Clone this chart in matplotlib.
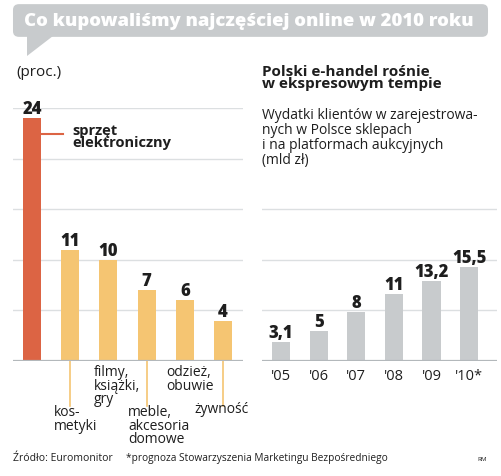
import matplotlib
matplotlib.use("Agg")
from matplotlib import pyplot as plt
from matplotlib.patches import FancyBboxPatch, Polygon

# data: what we bought online most often in 2010 (percent)
categories = ["sprzęt\nelektroniczny", "kos-\nmetyki", "filmy,\nksiążki,\ngry",
              "meble,\nakcesoria\ndomowe", "odzież,\nobuwie", "żywność"]
shares = [24, 11, 10, 7, 6, 4]

# data: Polish e-commerce spending (bn zl)
years = ["'05", "'06", "'07", "'08", "'09", "'10*"]
spending = [3.1, 5, 8, 11, 13.2, 15.5]
spending_labels = ["3,1", "5", "8", "11", "13,2", "15,5"]

W, H = 502, 477
RED = "#dc6444"
YELLOW = "#f5c572"
GREY_BAR = "#c8cbcd"
GRID = "#dcdfe1"
BASE = "#b3b8bb"
TXT = "#1e1e1e"

plt.rcParams["font.family"] = ["Open Sans", "DejaVu Sans"]

fig = plt.figure(figsize=(W / 100, H / 100), dpi=100)


def fx(x):
    return x / W


def fy(y):
    return 1 - y / H


def px_axes(x0, y0, x1, y1):
    return fig.add_axes([fx(x0), fy(y1), (x1 - x0) / W, (y1 - y0) / H])


# title box with speech-bubble tail
box = FancyBboxPatch((fx(16), fy(35)), fx(469), (33 - 6) / H,
                     boxstyle="round,pad=0.006,rounding_size=0.012",
                     transform=fig.transFigure, facecolor=GREY_BAR,
                     edgecolor="none")
fig.patches.append(box)
tail = Polygon([(fx(27), fy(37)), (fx(53), fy(37)), (fx(27), fy(57))],
               closed=True, transform=fig.transFigure, facecolor=GREY_BAR,
               edgecolor="none")
fig.patches.append(tail)
fig.text(fx(249), fy(21), "Co kupowaliśmy najczęściej online w 2010 roku",
         color="white", fontsize=13.3, fontweight="heavy", ha="center",
         va="center")

fig.text(fx(16), fy(73), "(proc.)", fontsize=11, color=TXT, va="center")

# ---- left chart ----
ax1 = px_axes(13, 109, 243, 362)
x1 = list(range(len(shares)))
colors = [RED] + [YELLOW] * (len(shares) - 1)
ax1.bar(x1, shares, width=0.47, color=colors, zorder=3)
ax1.set_xlim(-0.497, 5.52)
ax1.set_ylim(0, 25)
for g in [5, 10, 15, 20, 25]:
    ax1.axhline(g, color=GRID, lw=1, zorder=1)
ax1.axhline(0, color=BASE, lw=1.6, zorder=4)
for i, v in enumerate(shares):
    ax1.annotate(str(v), (i, v), xytext=(0, 5), textcoords="offset pixels",
                 ha="center", va="baseline", fontsize=12, fontweight="heavy",
                 color=TXT, zorder=5, annotation_clip=False)
ax1.axis("off")

# label for the first (red) bar
ax1.plot([0.24, 0.8], [22.4, 22.4], color=RED, lw=1.5, clip_on=False)
fig.text(fx(72), fy(137), categories[0], fontsize=10.5, fontweight="bold",
         color=TXT, va="center", linespacing=0.9)

# labels under yellow bars
label_x = [54, 94, 128, 166, 194]
label_top = [405, 365, 405, 365, 402]
leaders = [1, 3, 5]
for i in leaders:
    ax1.plot([i, i], [0, -4.4], color=YELLOW, lw=1.2, clip_on=False)
for name, lx, ly in zip(categories[1:], label_x, label_top):
    fig.text(fx(lx), fy(ly), name, fontsize=10, color=TXT, va="top",
             linespacing=0.88)

# ---- right chart ----
fig.text(fx(262), fy(78), "Polski e-handel rośnie\nw ekspresowym tempie",
         fontsize=11, fontweight="bold", color=TXT, va="center",
         linespacing=0.9)
fig.text(fx(262), fy(138),
         "Wydatki klientów w zarejestrowa-\nnych w Polsce sklepach\n"
         "i na platformach aukcyjnych\n(mld zł)",
         fontsize=10, color=TXT, va="center", linespacing=1.0)

ax2 = px_axes(262, 109, 497, 362)
x2 = list(range(len(spending)))
top2 = 41.6
ax2.bar(x2, spending, width=0.48, color=GREY_BAR, zorder=3)
ax2.set_xlim(-0.505, 5.74)
ax2.set_ylim(0, top2)
for k in [1, 2, 3]:
    ax2.axhline(top2 * k / 5, color=GRID, lw=1, zorder=1)
ax2.axhline(0, color=BASE, lw=1.6, zorder=4)
for i, (v, lab) in enumerate(zip(spending, spending_labels)):
    ax2.annotate(lab, (i, v), xytext=(0, 5), textcoords="offset pixels",
                 ha="center", va="baseline", fontsize=12, fontweight="heavy",
                 color=TXT, zorder=5, annotation_clip=False)
    ax2.annotate(years[i], (i, 0), xytext=(0, -14), textcoords="offset pixels",
                 ha="center", va="center", fontsize=10.5, color=TXT,
                 annotation_clip=False)
ax2.axis("off")

# footer
fig.text(fx(13), fy(459), "Źródło: Euromonitor", fontsize=7.5, color=TXT, va="center")
fig.text(fx(126), fy(459), "*prognoza Stowarzyszenia Marketingu Bezpośredniego",
         fontsize=7.3, color=TXT, va="center")
fig.text(fx(477), fy(460), "RM", fontsize=4.5, color=TXT, va="center")

fig.savefig("out.png", dpi=100)
